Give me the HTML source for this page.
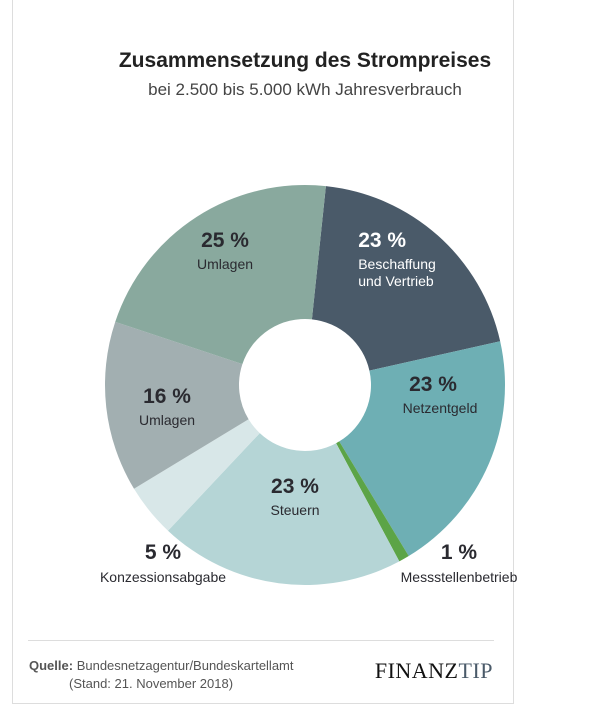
<!DOCTYPE html>
<html><head><meta charset="utf-8"><style>
body{margin:0;background:#fff;font-family:"Liberation Sans",sans-serif;}
#wrap{position:relative;width:610px;height:718px;overflow:hidden;}
.t{position:absolute;white-space:nowrap;transform:translateX(-50%);text-align:center;}
</style></head><body>
<div id="wrap">
<div style="position:absolute;left:12px;top:-2px;width:500px;height:704px;border:1px solid #ddd;"></div>
<div class="t" style="left:305px;top:49px;font-size:21px;font-weight:bold;color:#222;">Zusammensetzung des Strompreises</div>
<div class="t" style="left:305px;top:80px;font-size:17px;color:#444;">bei 2.500 bis 5.000 kWh Jahresverbrauch</div>
<svg id="pie" width="610" height="718" style="position:absolute;left:0;top:0;"></svg>
<div class="t" style="left:225px;top:229px;color:#2a2a30;"><div style="font-size:21px;font-weight:bold;">25 %</div><div style="font-size:14px;margin-top:3px;">Umlagen</div></div>
<div class="t" style="left:397px;top:229px;color:#fff;text-align:left;"><div style="font-size:21px;font-weight:bold;">23 %</div><div style="font-size:14px;margin-top:3px;line-height:17px;">Beschaffung<br>und Vertrieb</div></div>
<div class="t" style="left:440px;top:373px;color:#2a2a30;"><div style="font-size:21px;font-weight:bold;margin-right:14px;">23 %</div><div style="font-size:14px;margin-top:3px;">Netzentgeld</div></div>
<div class="t" style="left:167px;top:385px;color:#2a2a30;"><div style="font-size:21px;font-weight:bold;">16 %</div><div style="font-size:14px;margin-top:3px;">Umlagen</div></div>
<div class="t" style="left:295px;top:475px;color:#2a2a30;"><div style="font-size:21px;font-weight:bold;">23 %</div><div style="font-size:14px;margin-top:3px;">Steuern</div></div>
<div class="t" style="left:163px;top:541px;color:#2a2a30;"><div style="font-size:21px;font-weight:bold;">5 %</div><div style="font-size:14px;margin-top:4px;">Konzessionsabgabe</div></div>
<div class="t" style="left:459px;top:541px;color:#2a2a30;"><div style="font-size:21px;font-weight:bold;">1 %</div><div style="font-size:14px;margin-top:4px;">Messstellenbetrieb</div></div>
<div style="position:absolute;left:28px;top:640px;width:466px;height:1px;background:#ddd;"></div>
<div style="position:absolute;left:29px;top:657px;font-size:13px;color:#555;line-height:18px;"><b>Quelle:</b> Bundesnetzagentur/Bundeskartellamt<br><span style="padding-left:40px;">(Stand: 21. November 2018)</span></div>
<div style="position:absolute;right:117px;top:658px;font-family:'Liberation Serif',serif;font-size:22px;letter-spacing:0.5px;color:#111;">FINANZ<span style="color:#4a5a69;">TIP</span></div>
</div>
<script>
const categories=["Beschaffung und Vertrieb","Netzentgeld","Messstellenbetrieb","Steuern","Konzessionsabgabe","Umlagen","Umlagen"];
const values=[23,23,1,23,5,16,25];
const colors=["#4a5a69","#6eafb4","#5ca447","#b5d5d6","#d8e7e8","#a2afb1","#89a99e"];
const svg=document.getElementById('pie');
const cx=305,cy=385,R=200,r=66,start=6;
const total=values.reduce((a,b)=>a+b,0);
function pt(deg,rad){const a=(deg-90)*Math.PI/180;return [cx+rad*Math.cos(a),cy+rad*Math.sin(a)];}
let ang=start;
values.forEach((v,i)=>{
  const sweep=v/total*360,a0=ang,a1=ang+sweep;ang=a1;
  const p0=pt(a0,R),p1=pt(a1,R),q1=pt(a1,r),q0=pt(a0,r);
  const lg=sweep>180?1:0;
  const p=document.createElementNS('http://www.w3.org/2000/svg','path');
  p.setAttribute('d',`M${p0[0]},${p0[1]}A${R},${R} 0 ${lg} 1 ${p1[0]},${p1[1]}L${q1[0]},${q1[1]}A${r},${r} 0 ${lg} 0 ${q0[0]},${q0[1]}Z`);
  p.setAttribute('fill',colors[i]);
  
  
  svg.appendChild(p);
});
</script>
</body></html>
